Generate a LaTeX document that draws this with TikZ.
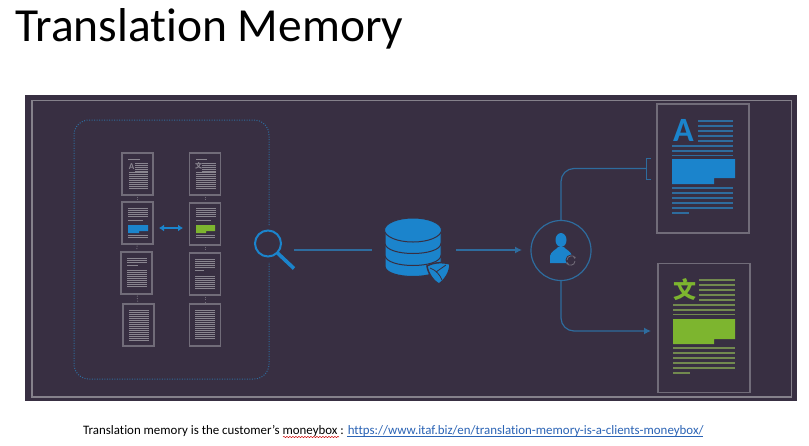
\documentclass[tikz,border=0pt]{standalone}
\usepackage{fontspec}
\setmainfont[Ligatures=NoCommon]{Carlito}
\newfontfamily\cjkfont{Noto Sans CJK SC}
\usetikzlibrary{arrows.meta, decorations.pathmorphing, shapes.geometric}

\definecolor{panelbg}{HTML}{382F42}
\definecolor{framegray}{HTML}{716C79}
\definecolor{rimgray}{HTML}{85818B}
\definecolor{textgray}{HTML}{8A8690}
\definecolor{iconblue}{HTML}{1B84CC}
\definecolor{lineblue}{HTML}{2E6C9E}
\definecolor{leafgreen}{HTML}{7DB52F}
\definecolor{olivegreen}{HTML}{72894F}
\definecolor{linkblue}{HTML}{2A63B5}

\tikzset{
  pageframe/.style={draw=framegray, line width=1.3, minimum width=31, minimum height=42, inner sep=0},
  bigframe/.style={draw=framegray, line width=1.3, minimum width=92, minimum height=129, inner sep=0},
  pagelink/.style={draw=framegray, line width=1, dash pattern=on 1 off 1.5},
  flowline/.style={draw=lineblue, line width=1.2},
  flowtip/.style={-{Latex[length=7, width=7]}},
}

% #1 left, #2 right, #3 top, #4 bottom
\newcommand{\lineblock}[4]{%
  \pgfmathsetmacro{\lnext}{#3+2}
  \foreach \ly in {#3, \lnext, ..., #4} {
    \draw[textgray, line width=.9] (#1, \ly) -- (#2, \ly);
  }
}

\begin{document}
\begin{tikzpicture}[x=1pt, y=-1pt]
  \useasboundingbox (0, 0) rectangle (809, 445);
  \fill[white] (0, 0) rectangle (809, 445);

  \node[anchor=base west, font=\fontsize{47.5}{48}\selectfont, inner sep=0] (title) at (15, 41) {Translation Memory};

  \fill[panelbg] (25, 94.5) rectangle (797, 401);
  \draw[rimgray, line width=1.3] (32, 100.5) rectangle (791.5, 397);

  \draw[lineblue, line width=1, dash pattern=on 1 off 1.5, rounded corners=15]
  (269, 225) -- (269, 120) -- (74, 120) -- (74, 379) -- (269, 379) -- (269, 262);

  \node[pageframe] (srcA) at (137.5, 174) {};
  \node[pageframe] (srcB) at (137.5, 223) {};
  \node[pageframe] (srcC) at (136.5, 273) {};
  \node[pageframe] (srcD) at (138.5, 325) {};
  \node[pageframe] (tgtA) at (205, 174) {};
  \node[pageframe] (tgtB) at (205, 224) {};
  \node[pageframe] (tgtC) at (205, 274) {};
  \node[pageframe] (tgtD) at (205, 325) {};
  \foreach \a/\b in {srcA/srcB, srcB/srcC, srcC/srcD, tgtA/tgtB, tgtB/tgtC, tgtC/tgtD} {
    \draw[pagelink, shorten >=1, shorten <=1] (\a) -- (\b);
  }

  \draw[textgray, line width=1] (128, 159) -- (140, 159);
  \draw[textgray, line width=1] (196, 159) -- (207, 159);
  \lineblock{135}{148}{163}{171}
  \lineblock{129}{148}{172}{188}
  \lineblock{202}{216}{163}{171}
  \lineblock{196}{216}{172}{188}
  \node[textgray, font=\fontsize{9}{9}\selectfont\bfseries, inner sep=0] (srcglyph) at (131.5, 167) {A};
  \node[textgray, font=\fontsize{7}{7}\selectfont\cjkfont\bfseries, inner sep=0] (tgtglyph) at (198.5, 166) {文};

  \lineblock{128}{148}{208}{216}
  \draw[textgray, line width=.9] (128, 220) -- (143, 220);
  \fill[iconblue] (128, 225) -- (148, 225) -- (148, 231) -- (139, 231) -- (139, 233) -- (128, 233) -- cycle;
  \lineblock{128}{148}{235}{237}
  \lineblock{196}{216}{208}{216}
  \draw[textgray, line width=.9] (196, 220) -- (211, 220);
  \fill[leafgreen] (196, 225) -- (215, 225) -- (215, 231) -- (206, 231) -- (206, 233) -- (196, 233) -- cycle;
  \lineblock{196}{215}{235}{237}

  \lineblock{127}{147}{258}{263}
  \draw[textgray, line width=.9] (127, 265) -- (138, 265);
  \lineblock{127}{147}{270}{287}
  \lineblock{195}{215}{259}{268}
  \draw[textgray, line width=.9] (195, 270) -- (204, 270);
  \lineblock{195}{215}{276}{288}

  \lineblock{129}{149}{310}{340}
  \lineblock{195}{215}{310}{339}

  \draw[iconblue, line width=1.3, {Latex[length=5, width=7]}-{Latex[length=5, width=7]}] (159, 228) -- (183, 228);

  \node[draw=iconblue, circle, line width=2, minimum size=26, inner sep=0] (lens) at (268, 243.5) {};
  \coordinate (lensgrip) at (277.5, 253);
  \coordinate (lenstip) at (294, 268.5);
  \draw[iconblue, line width=3.6] (lensgrip) -- (lenstip);

  \fill[iconblue, draw=panelbg, line width=1] (385, 255) -- (385, 266) .. controls (385, 280) and (441, 280) .. (441, 266) -- (441, 255) -- cycle;
  \fill[iconblue, draw=panelbg, line width=1] (385, 243) -- (385, 255) .. controls (385, 269) and (441, 269) .. (441, 255) -- (441, 243) -- cycle;
  \fill[iconblue, draw=panelbg, line width=1] (385, 230) -- (385, 243) .. controls (385, 257) and (441, 257) .. (441, 243) -- (441, 230) -- cycle;
  \node[ellipse, fill=iconblue, draw=panelbg, line width=1, minimum width=57, minimum height=24, inner sep=0] (dbtop) at (413, 230) {};
  \fill[iconblue, draw=panelbg, line width=1.5] (427, 266) .. controls (434, 262) and (443, 262) .. (450, 264)
  .. controls (450, 272) and (445, 280) .. (439, 284) .. controls (433, 281) and (428, 273) .. (427, 266) -- cycle;
  \draw[panelbg, line width=.8] (430, 268) .. controls (436, 270) and (440, 275) .. (442, 280);
  \draw[panelbg, line width=.8] (436, 272) -- (446, 265);

  \node[draw=lineblue, circle, line width=1.2, minimum size=60, inner sep=0] (agent) at (561, 250.5) {};
  \fill[iconblue] (561, 240) ellipse [x radius=5.5, y radius=7];
  \fill[iconblue] (550, 263) -- (550, 256) .. controls (551, 251) and (556, 250) .. (558, 247) -- (564, 247)
  .. controls (566, 250) and (571, 251) .. (572, 256) -- (572, 263) -- cycle;
  \fill[panelbg] (571, 260) circle (5.5);
  \draw[framegray, line width=.8, -{Latex[length=2, width=2.5]}] (567, 260) .. controls (567, 255) and (574, 255) .. (575, 259);
  \draw[framegray, line width=.8, -{Latex[length=2, width=2.5]}] (575, 261) .. controls (575, 266) and (568, 266) .. (567, 262);

  \coordinate (lensout) at (294, 250);
  \coordinate (dbin) at (372, 250);
  \coordinate (dbout) at (456, 250);
  \coordinate (agentin) at (522, 250);
  \coordinate (bracketin) at (646, 168.5);
  \coordinate (tgtin) at (651, 331);
  \draw[flowline] (lensout) -- (dbin);
  \draw[flowline, flowtip] (dbout) -- (agentin);
  \draw[flowline, rounded corners=13] (agent.north) |- (bracketin);
  \draw[flowline, flowtip, rounded corners=13] (agent.south) |- (tgtin);
  \draw[lineblue, line width=1] (651, 158) -- (646.5, 158) -- (646.5, 179) -- (651, 179);

  \node[bigframe] (srcpage) at (703, 168.5) {};
  \foreach \y in {121, 126, ..., 141} {
    \draw[lineblue, line width=1.1] (698, \y) -- (733, \y);
  }
  \foreach \y in {146, 151, 155.5, 188, 193, 198, 203, 208} {
    \draw[lineblue, line width=1.1] (672, \y) -- (733, \y);
  }
  \draw[lineblue, line width=1.1] (672, 213) -- (689, 213);
  \fill[iconblue] (672, 159) -- (735, 159) -- (735, 178) -- (714, 178) -- (714, 184) -- (672, 184) -- cycle;
  \node[iconblue, font=\fontsize{34}{34}\selectfont\bfseries, inner sep=0] (srcletter) at (683.5, 130) {A};

  \node[bigframe] (tgtpage) at (704, 328) {};
  \foreach \y in {280, 285, ..., 300} {
    \draw[olivegreen, line width=1.1] (699, \y) -- (735, \y);
  }
  \foreach \y in {305, 310, 314.5, 348, 353, 358, 363, 368} {
    \draw[olivegreen, line width=1.1] (673, \y) -- (735, \y);
  }
  \draw[olivegreen, line width=1.1] (673, 373) -- (690, 373);
  \fill[leafgreen] (673, 319) -- (735, 319) -- (735, 339) -- (714, 339) -- (714, 344) -- (673, 344) -- cycle;
  \node[leafgreen, font=\fontsize{23}{23}\selectfont\cjkfont\bfseries, inner sep=0] (tgtletter) at (685, 290) {文};

  \node[anchor=base west, font=\fontsize{12.9}{14}\selectfont, inner sep=0] (caption) at (83, 434)
  {Translation memory is the customer's moneybox : \textcolor{linkblue}{https://www.itaf.biz/en/translation-memory-is-a-clients-moneybox/}};
  \draw[linkblue, line width=.7] (347, 436.5) -- (703, 436.5);
  \draw[red!80!black, line width=.5, decorate, decoration={snake, amplitude=.6, segment length=3}] (283, 437) -- (339, 437);
\end{tikzpicture}
\end{document}
